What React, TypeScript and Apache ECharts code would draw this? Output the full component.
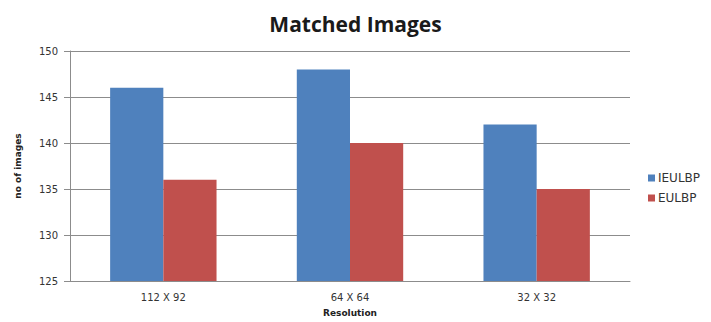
import React, { useEffect, useRef } from "react";
import * as echarts from "echarts";

const categories = ["112 X 92", "64 X 64", "32 X 32"];
const ieulbp = [146, 148, 142];
const eulbp = [136, 140, 135];
const seriesNames = ["IEULBP", "EULBP"];

export default function App() {
  const ref = useRef<HTMLDivElement>(null);
  useEffect(() => {
    document.body.style.margin = "0";
    const chart = echarts.init(ref.current!, null, { renderer: "svg" });
    chart.setOption({
      animation: false,
      backgroundColor: "#ffffff",
      title: {
        text: "Matched Images",
        left: "center",
        top: 8,
        textStyle: { fontFamily: "Open Sans", fontWeight: "bold", fontSize: 21, color: "#1a1a1a" },
      },
      legend: {
        orient: "vertical",
        left: 643,
        top: 167,
        itemWidth: 7,
        itemHeight: 7,
        itemGap: 8,
        icon: "rect",
        textStyle: { fontFamily: "DejaVu Sans", fontSize: 12, color: "#333", padding: [0, 0, 0, -2] },
        data: seriesNames,
      },
      grid: { left: 70, right: 81, top: 51, bottom: 38 },
      xAxis: {
        type: "category",
        data: categories,
        name: "Resolution",
        nameLocation: "middle",
        nameGap: 27,
        nameTextStyle: { fontFamily: "DejaVu Sans", fontWeight: "bold", fontSize: 9, color: "#222" },
        axisLine: { lineStyle: { color: "#8c8c8c", width: 1 } },
        axisTick: { show: false },
        axisLabel: { fontFamily: "DejaVu Sans", fontSize: 10, color: "#333", margin: 11 },
      },
      yAxis: {
        type: "value",
        min: 125,
        max: 150,
        interval: 5,
        name: "no of images",
        nameLocation: "middle",
        nameGap: 48,
        nameTextStyle: { fontFamily: "DejaVu Sans", fontWeight: "bold", fontSize: 9, color: "#222" },
        axisLine: { show: true, lineStyle: { color: "#8c8c8c", width: 1 } },
        axisTick: { show: true, length: 6, lineStyle: { color: "#8c8c8c" } },
        axisLabel: { fontFamily: "DejaVu Sans", fontSize: 10, color: "#333", margin: 12 },
        splitLine: { lineStyle: { color: "#8c8c8c", width: 1 } },
      },
      series: [
        {
          name: seriesNames[0],
          type: "bar",
          data: ieulbp,
          itemStyle: { color: "#4F81BD" },
          barGap: "0%",
          barCategoryGap: "43%",
        },
        {
          name: seriesNames[1],
          type: "bar",
          data: eulbp,
          itemStyle: { color: "#C0504D" },
          barGap: "0%",
          barCategoryGap: "43%",
        },
      ],
    });
    return () => chart.dispose();
  }, []);
  return <div ref={ref} style={{ position: "fixed", left: 0, top: 0, width: 711, height: 322 }} />;
}
